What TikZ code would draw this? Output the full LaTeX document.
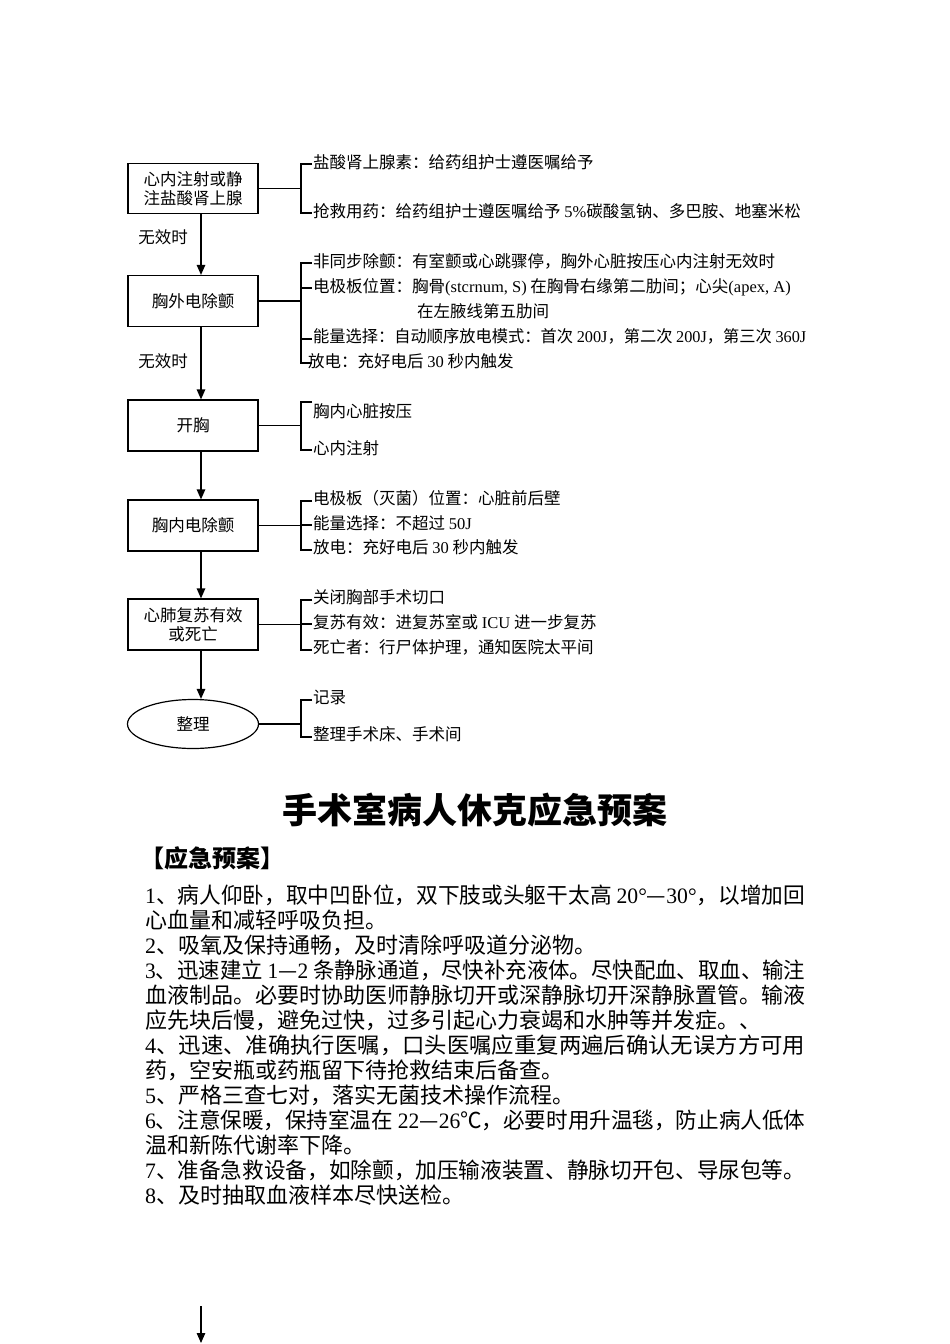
\documentclass[tikz,border=0pt]{standalone}
\usepackage{fontspec}
\usepackage{graphicx}
\setmainfont{Noto Sans CJK SC}
\newfontfamily\tnrfont{Liberation Serif}
\newcommand\tnr[1]{{\tnrfont #1}}
\newcommand\fullline[1]{\resizebox{660pt}{\height}{#1}}
\usetikzlibrary{arrows.meta,shapes.geometric,calc}
\tikzset{
  fc/.style={font=\fontsize{16.5}{18.5}\selectfont},
  box/.style={draw, line width=1.2pt, minimum width=130pt, minimum height=50pt, inner sep=0pt, align=center, fc},
  oval/.style={ellipse, draw, line width=1.2pt, minimum width=131pt, minimum height=49pt, inner sep=0pt, fc},
  arr/.style={line width=1.2pt, -{Triangle[length=10pt,width=8.5pt]}},
  brk/.style={line width=1.2pt},
  item/.style={anchor=base west, inner sep=0pt, fc},
  lbl/.style={inner sep=0pt, fc},
  body/.style={anchor=base west, inner sep=0pt, font=\fontsize{22}{25}\selectfont},
  ttl/.style={inner sep=0pt, font=\fontsize{35}{40}\selectfont\bfseries},
  sub/.style={anchor=base west, inner sep=0pt, font=\fontsize{24}{28}\selectfont\bfseries},
}
\begin{document}
\begin{tikzpicture}[x=1pt,y=-1pt]
\useasboundingbox (0,0) rectangle (950,1344);
\coordinate (ax) at (201,0);
\coordinate (bx) at (301,0);
\coordinate (tx) at (312,0);

% boxes
\node[box] (b1) at (193,188.5) {心内注射或静\\注盐酸肾上腺};
\node[box, minimum height=51pt] (b2) at (193,301) {胸外电除颤};
\node[box, minimum height=51pt] (b3) at (193,425.5) {开胸};
\node[box, minimum height=51pt] (b4) at (193,525.5) {胸内电除颤};
\node[box, minimum height=51pt] (b5) at (193,624.5) {心肺复苏有效\\或死亡};
\node[oval] (b6) at (193,724) {整理};

% labels
\node[lbl] (n1) at (163,237) {无效时};
\node[lbl] (n2) at (163,361) {无效时};

% arrows
\draw[arr] (b1.south -| ax) -- (b2.north -| ax);
\draw[arr] (b2.south -| ax) -- (b3.north -| ax);
\draw[arr] (b3.south -| ax) -- (b4.north -| ax);
\draw[arr] (b4.south -| ax) -- (b5.north -| ax);
\draw[arr] (b5.south -| ax) -- (b6.north -| ax);

% group 1
\coordinate (k11) at (312,164);
\coordinate (k12) at (312,213);
\draw[brk] (b1.east) -- (b1.east -| bx);
\draw[brk] (k11) -- (k11 -| bx) -- (k12 -| bx) -- (k12);
\node[item] (t11) at (313,168) {盐酸肾上腺素：给药组护士遵医嘱给予};
\node[item] (t12) at (313,217) {抢救用药：给药组护士遵医嘱给予 \tnr{5\%}碳酸氢钠、多巴胺、地塞米松};

% group 2
\coordinate (k21) at (312,263);
\coordinate (k22) at (312,288);
\coordinate (k23) at (312,339);
\coordinate (k24) at (312,363);
\draw[brk] (b2.east) -- (b2.east -| bx);
\draw[brk] (k21) -- (k21 -| bx) -- (k24 -| bx) -- (k24);
\draw[brk] (k22 -| bx) -- (k22);
\draw[brk] (k23 -| bx) -- (k23);
\node[item] (t21) at (313,267) {非同步除颤：有室颤或心跳骤停，胸外心脏按压心内注射无效时};
\node[item] (t22) at (313,292) {电极板位置：胸骨\tnr{(stcrnum, S)} 在胸骨右缘第二肋间；心尖\tnr{(apex, A)}};
\node[item] (t23) at (417,317) {在左腋线第五肋间};
\node[item] (t24) at (313,342) {\resizebox{493pt}{\height}{能量选择：自动顺序放电模式：首次 \tnr{200J}，第二次 \tnr{200J}，第三次 \tnr{360J}}};
\node[item] (t25) at (308,367) {放电：充好电后 \tnr{30} 秒内触发};

% group 3
\coordinate (k31) at (312,402);
\coordinate (k32) at (312,450);
\draw[brk] (b3.east) -- (b3.east -| bx);
\draw[brk] (k31) -- (k31 -| bx) -- (k32 -| bx) -- (k32);
\node[item] (t31) at (313,417) {胸内心脏按压};
\node[item] (t32) at (313,454) {心内注射};

% group 4
\coordinate (k41) at (312,501);
\coordinate (k42) at (312,525);
\coordinate (k43) at (312,550);
\draw[brk] (b4.east) -- (b4.east -| bx);
\draw[brk] (k41) -- (k41 -| bx) -- (k43 -| bx) -- (k43);
\draw[brk] (k42 -| bx) -- (k42);
\node[item] (t41) at (313,504) {电极板（灭菌）位置：心脏前后壁};
\node[item] (t42) at (313,529) {能量选择：不超过 \tnr{50J}};
\node[item] (t43) at (313,553) {放电：充好电后 \tnr{30} 秒内触发};

% group 5
\coordinate (k51) at (312,600);
\coordinate (k52) at (312,624);
\coordinate (k53) at (312,650);
\draw[brk] (b5.east) -- (b5.east -| bx);
\draw[brk] (k51) -- (k51 -| bx) -- (k53 -| bx) -- (k53);
\draw[brk] (k52 -| bx) -- (k52);
\node[item] (t51) at (313,603) {关闭胸部手术切口};
\node[item] (t52) at (313,628) {复苏有效：进复苏室或 \tnr{ICU} 进一步复苏};
\node[item] (t53) at (313,653) {死亡者：行尸体护理，通知医院太平间};

% group 6
\coordinate (k61) at (312,700);
\coordinate (k62) at (312,737);
\draw[brk] (b6.east) -- (b6.east -| bx);
\draw[brk] (k61) -- (k61 -| bx) -- (k62 -| bx) -- (k62);
\node[item] (t61) at (313,703) {记录};
\node[item] (t62) at (313,740) {整理手术床、手术间};

% title and text
\node[ttl] (title) at (475,810) {手术室病人休克应急预案};
\node[sub] (sub) at (140,867) {【应急预案】};
\node[body] (l1) at (145,903.4) {\fullline{\tnr{1}、病人仰卧，取中凹卧位，双下肢或头躯干太高 \tnr{20°}—\tnr{30°}，以增加回}};
\node[body] (l2) at (145,928.4) {心血量和减轻呼吸负担。};
\node[body] (l3) at (145,953.4) {\tnr{2}、吸氧及保持通畅，及时清除呼吸道分泌物。};
\node[body] (l4) at (145,978.4) {\fullline{\tnr{3}、迅速建立 \tnr{1}—\tnr{2} 条静脉通道，尽快补充液体。尽快配血、取血、输注}};
\node[body] (l5) at (145,1003.4) {\fullline{血液制品。必要时协助医师静脉切开或深静脉切开深静脉置管。输液}};
\node[body] (l6) at (145,1028.4) {应先块后慢，避免过快，过多引起心力衰竭和水肿等并发症。、};
\node[body] (l7) at (145,1053.4) {\fullline{\tnr{4}、迅速、准确执行医嘱，口头医嘱应重复两遍后确认无误方方可用}};
\node[body] (l8) at (145,1078.4) {药，空安瓶或药瓶留下待抢救结束后备查。};
\node[body] (l9) at (145,1103.4) {\tnr{5}、严格三查七对，落实无菌技术操作流程。};
\node[body] (l10) at (145,1128.4) {\fullline{\tnr{6}、注意保暖，保持室温在 \tnr{22}—\tnr{26}℃，必要时用升温毯，防止病人低体}};
\node[body] (l11) at (145,1153.4) {温和新陈代谢率下降。};
\node[body] (l12) at (145,1178.4) {\fullline{\tnr{7}、准备急救设备，如除颤，加压输液装置、静脉切开包、导尿包等。}};
\node[body] (l13) at (145,1203.4) {\tnr{8}、及时抽取血液样本尽快送检。};

% bottom arrow
\coordinate (s0) at (201,1306);
\coordinate (e0) at (201,1343);
\draw[arr] (s0) -- (e0);
\end{tikzpicture}
\end{document}
